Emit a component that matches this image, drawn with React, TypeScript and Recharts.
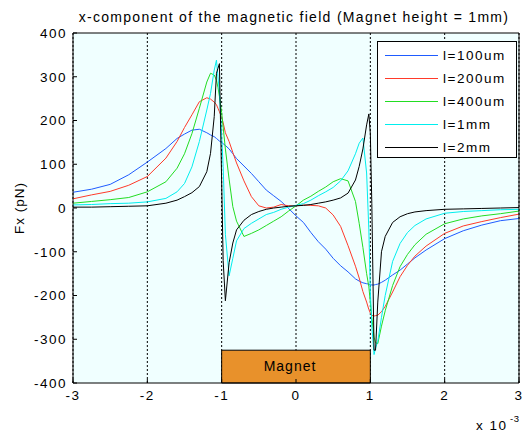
import React from "react";
import { LineChart, Line, XAxis, YAxis, CartesianGrid, ReferenceArea, Legend } from "recharts";

const FONT = "'Liberation Sans', Arial, Helvetica, sans-serif";

// x position in units of 1e-3 (mm)
const xMm = [
  -3, -2.75, -2.5, -2.25, -2, -1.75, -1.6, -1.5, -1.4, -1.3, -1.2, -1.15, -1.1, -1.07, -1.05, -1.03, -1, -0.98,
  -0.95, -0.9, -0.85, -0.8, -0.7, -0.6, -0.5, -0.4, -0.3, -0.2, -0.1, 0, 0.1, 0.2, 0.3, 0.4, 0.5, 0.6, 0.7, 0.8,
  0.85, 0.9, 0.95, 0.98, 1, 1.02, 1.05, 1.07, 1.1, 1.15, 1.2, 1.3, 1.4, 1.5, 1.6, 1.75, 2, 2.25, 2.5, 2.75, 3,
];

// Fx (pN) per gap length
const fx100um = [
  36, 43, 54, 76, 105, 136, 159, 169, 178, 180, 172, 167, 163, 159, 156, 153, 150, 147, 143, 135, 124, 113, 96, 79,
  60, 41, 28, 15, -1, -18, -33, -56, -77, -94, -115, -132, -146, -162, -167, -171, -173, -174, -175, -176, -176,
  -175, -174, -170, -165, -153, -142, -128, -114, -96, -70, -52, -39, -29, -24,
];
const fx200um = [
  21, 30, 38, 52, 72, 114, 152, 184, 213, 243, 252, 249, 242, 236, 228, 220, 207, 195, 172, 152, 127, 103, 62, 26,
  5, 0, 2, 8, 5, 5, 7, 6, 5, 0, -16, -42, -86, -133, -160, -191, -215, -232, -240, -245, -247, -246, -245, -237,
  -225, -192, -157, -131, -110, -87, -58, -41, -31, -22, -14,
];
const fx400um = [
  11, 15, 19, 24, 37, 60, 91, 124, 170, 228, 288, 308, 304, 292, 276, 255, 218, 185, 135, 66, 3, -30, -65, -58,
  -50, -40, -30, -20, -7, 5, 18, 27, 38, 48, 60, 67, 62, 15, -35, -90, -150, -180, -215, -250, -295, -308, -310,
  -270, -235, -177, -134, -106, -84, -60, -36, -25, -18, -13, -7,
];
const fx1mm = [
  7, 8, 10, 11, 14, 22, 37, 56, 94, 152, 224, 262, 315, 338, 300, 265, 165, 95, -60, -155, -115, -75, -47, -35,
  -25, -15, -10, -3, 2, 6, 10, 18, 28, 37, 47, 62, 85, 124, 148, 160, 80, -50, -190, -270, -335, -320, -305, -250,
  -200, -122, -81, -56, -40, -25, -12, -8, -6, -4, -3,
];
const fx2mm = [
  2, 2, 3, 4, 5, 11, 18, 26, 35, 49, 83, 125, 209, 308, 319, 330, 60, -120, -212, -125, -80, -50, -28, -15, -8,
  -3, 0, 2, 4, 5, 6, 8, 11, 14, 18, 23, 34, 64, 95, 135, 190, 215, 170, 10, -325, -325, -215, -100, -65, -33, -20,
  -13, -9, -6, -3, -2, -1, 0, 1,
];

const series = [
  { key: "l100um", name: "l=100um", color: "#1f5bff", values: fx100um },
  { key: "l200um", name: "l=200um", color: "#ff3a2a", values: fx200um },
  { key: "l400um", name: "l=400um", color: "#22dd22", values: fx400um },
  { key: "l1mm", name: "l=1mm", color: "#00eeee", values: fx1mm },
  { key: "l2mm", name: "l=2mm", color: "#000000", values: fx2mm },
];

const xTicks = [-3, -2, -1, 0, 1, 2, 3];
const yTicks = [-400, -300, -200, -100, 0, 100, 200, 300, 400];

const rows = xMm.map((x, i) => {
  const r: any = { x };
  series.forEach((s) => (r[s.key] = s.values[i]));
  return r;
});

const tickStyle = { fontSize: 13.5, fill: "#000", fontFamily: FONT, letterSpacing: 1.5 };

// legend keeps the plotting order (recharts would sort it by name)
const LegendBox = () => (
  <div
    style={{
      width: 140,
      height: 117,
      boxSizing: "border-box",
      border: "1px solid #000",
      background: "#fff",
      paddingTop: 2,
      fontFamily: FONT,
      fontSize: 13.5,
      letterSpacing: 1.5,
      color: "#000",
    }}
  >
    {series.map((s) => (
      <div key={s.key} style={{ height: 23, display: "flex", alignItems: "center" }}>
        <svg width={53} height={3} style={{ marginLeft: 7 }}>
          <line x1={0} y1={1.5} x2={53} y2={1.5} stroke={s.color} strokeWidth={1} />
        </svg>
        <span style={{ marginLeft: 5 }}>{s.name}</span>
      </div>
    ))}
  </div>
);

const MagnetLabel = ({ viewBox }: any) => (
  <text
    x={viewBox.x + viewBox.width / 2 - 6}
    y={viewBox.y + viewBox.height / 2 + 4.5}
    textAnchor="middle"
    fontSize={14}
    fontFamily={FONT}
    letterSpacing={1}
    fill="#000"
  >
    Magnet
  </text>
);

export default function App() {
  return (
    <div style={{ position: "absolute", left: 0, top: 0, width: 528, height: 432, background: "#fff" }}>
      <LineChart width={528} height={432} data={rows} margin={{ top: 28, right: 4, bottom: 19, left: 0 }}>
        <CartesianGrid
          horizontal={false}
          stroke="#000"
          strokeDasharray="2 2"
          fill="#f0ffff"
          fillOpacity={1}
        />
        <XAxis
          dataKey="x"
          type="number"
          domain={[-3, 3]}
          ticks={xTicks}
          height={30}
          tickSize={-4}
          tickMargin={11}
          axisLine={{ stroke: "#000" }}
          tickLine={{ stroke: "#000" }}
          tick={tickStyle}
        />
        <XAxis
          xAxisId="top"
          orientation="top"
          dataKey="x"
          type="number"
          domain={[-3, 3]}
          ticks={xTicks}
          height={5}
          tickSize={-4}
          tick={false}
          axisLine={{ stroke: "#000" }}
          tickLine={{ stroke: "#000" }}
        />
        <YAxis
          type="number"
          domain={[-400, 400]}
          ticks={yTicks}
          width={73}
          tickSize={-4}
          tickMargin={10}
          axisLine={{ stroke: "#000" }}
          tickLine={{ stroke: "#000" }}
          tick={tickStyle}
        />
        <YAxis
          yAxisId="right"
          orientation="right"
          type="number"
          domain={[-400, 400]}
          ticks={yTicks}
          width={5}
          tickSize={-4}
          tick={false}
          axisLine={{ stroke: "#000" }}
          tickLine={{ stroke: "#000" }}
        />
        {series.map((s) => (
          <Line
            key={s.key}
            type="linear"
            dataKey={s.key}
            name={s.name}
            stroke={s.color}
            strokeWidth={1}
            dot={false}
            legendType="line"
            isAnimationActive={false}
          />
        ))}
        <ReferenceArea
          x1={-1}
          x2={1}
          y1={-400}
          y2={-325}
          fill="#e8912b"
          fillOpacity={1}
          stroke="#000"
          strokeWidth={1}
          label={MagnetLabel}
        />
        <Legend
          layout="vertical"
          align="center"
          verticalAlign="middle"
          wrapperStyle={{ top: 41, left: 377, width: 140, height: 117 }}
          content={() => <LegendBox />}
        />
      </LineChart>
      <svg
        width={528}
        height={432}
        style={{ position: "absolute", left: 0, top: 0, pointerEvents: "none" }}
        fontFamily={FONT}
      >
        <text x={294} y={21.5} textAnchor="middle" fontSize={14} letterSpacing={1.3} fill="#000">
          x-component of the magnetic field (Magnet height = 1mm)
        </text>
        <text
          transform="translate(23.5,208) rotate(-90)"
          textAnchor="middle"
          fontSize={13.5}
          letterSpacing={1}
          fill="#000"
        >
          Fx (pN)
        </text>
        <text x={476} y={429.5} fontSize={13.5} letterSpacing={1.5} fill="#000">
          x 10
        </text>
        <text x={510} y={422} fontSize={9.5} letterSpacing={0.5} fill="#000">
          -3
        </text>
      </svg>
    </div>
  );
}
